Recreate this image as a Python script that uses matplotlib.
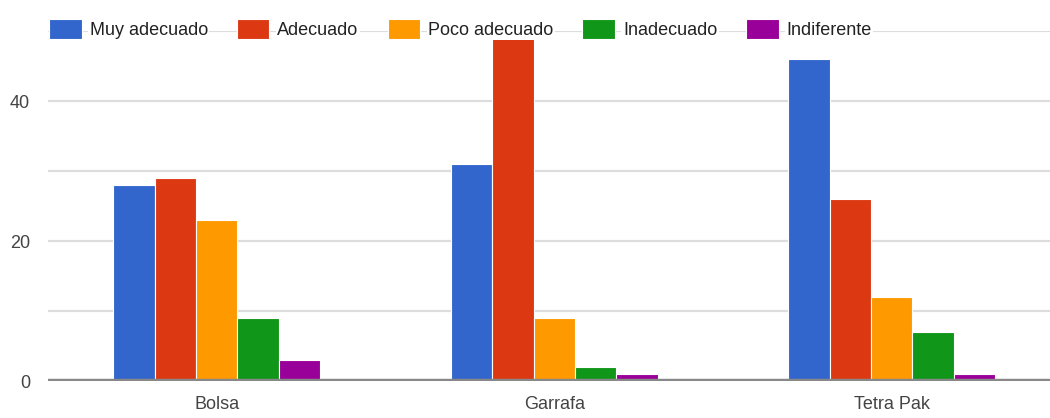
import numpy as np
import matplotlib.pyplot as plt

# data
categories = ['Bolsa', 'Garrafa', 'Tetra Pak']
series_names = ['Muy adecuado', 'Adecuado', 'Poco adecuado', 'Inadecuado', 'Indiferente']
muy_adecuado = [28, 31, 46]
adecuado = [29, 49, 26]
poco_adecuado = [23, 9, 12]
inadecuado = [9, 2, 7]
indiferente = [3, 1, 1]
values = [muy_adecuado, adecuado, poco_adecuado, inadecuado, indiferente]
colors = ['#3366cc', '#dc3912', '#ff9900', '#109618', '#990099']

plt.rcParams['font.family'] = ['Liberation Sans', 'DejaVu Sans']

fig = plt.figure(figsize=(10.5, 4.18), dpi=100)
ax = fig.add_axes([48/1050, 37/418, 1012.5/1050, 350/418])

x = np.arange(len(categories))
group_w = 0.613
w = group_w / len(series_names)
handles = []
for i, (name, vals) in enumerate(zip(series_names, values)):
    b = ax.bar(x + (i - 2) * w, vals, width=w, color=colors[i],
               edgecolor='white', linewidth=0.8, label=name, zorder=3)
    handles.append(b)

ax.set_xlim(-0.5, 2.5)
ax.set_ylim(0, 50)
ax.set_yticks([0, 20, 40])
ax.set_yticks([10, 30, 50], minor=True)
ax.grid(axis='y', which='both', color='#dddddd', linewidth=1.6, zorder=0)
ax.axhline(0, color='#888888', linewidth=3.2, zorder=4)
for s in ax.spines.values():
    s.set_visible(False)
ax.set_xticks(x)
ax.set_xticklabels(categories)
ax.tick_params(axis='both', which='both', length=0, labelsize=13, labelcolor='#444444')
ax.tick_params(axis='x', pad=11)
ax.tick_params(axis='y', pad=13)

leg = ax.legend(handles=handles, loc='center left',
                bbox_to_anchor=(49/1050, 1 - 29/418), bbox_transform=fig.transFigure,
                ncol=5, frameon=False, fontsize=13, borderpad=0, borderaxespad=0,
                handlelength=1.8, handleheight=1.3, handletextpad=0.45,
                columnspacing=1.6)
for t in leg.get_texts():
    t.set_color('#222222')
    t.set_bbox(dict(facecolor='white', edgecolor='none', pad=1))

fig.savefig('out.png', dpi=100)
